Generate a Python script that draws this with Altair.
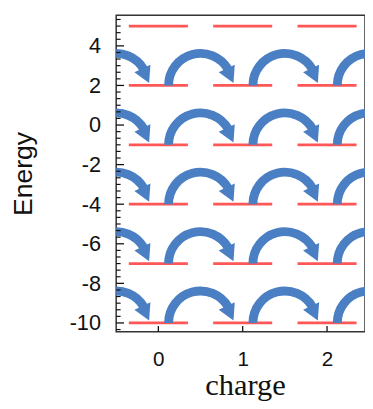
import altair as alt
import pandas as pd

# data
charges = [0, 1, 2]
seg_lo = [-0.35, 0.65, 1.65]
seg_hi = [0.35, 1.35, 2.35]
levels = [5, 2, -1, -4, -7, -10]
arc_levels = [2, -1, -4, -7, -10]
arc_centers = [-0.5, 0.5, 1.5, 2.5]
y_ticks = [-10, -8, -6, -4, -2, 0, 2, 4]
x_ticks = [0, 1, 2]
y_minor = [k / 3 for k in range(-31, 17) if k % 6 != 0]

BLUE = "#4a7fc3"
RED = "#ff5656"

lines_df = pd.DataFrame(
    [{"lo": lo, "hi": hi, "E": e} for lo, hi in zip(seg_lo, seg_hi) for e in levels]
)
arcs_df = pd.DataFrame([{"c": c, "E": e} for c in arc_centers for e in arc_levels])
ymaj_df = pd.DataFrame({"t": y_ticks})
ymin_df = pd.DataFrame({"t": y_minor})
xt_df = pd.DataFrame({"t": x_ticks})

xs = alt.Scale(domain=[-0.5, 2.45], nice=False, zero=False)
ys = alt.Scale(domain=[-10.45, 5.55], nice=False, zero=False)

xax = alt.Axis(
    values=x_ticks, ticks=False, domain=False, grid=False,
    labelExpr="datum.value + ''",
    labelFont="Liberation Sans", labelFontSize=21, labelColor="#111",
    labelPadding=17, title="charge", titleFont="Liberation Serif",
    titleFontSize=31, titleFontWeight="normal", titleColor="#111",
    titleBaseline="alphabetic", titleY=64, titleX=131,
)
yax = alt.Axis(
    values=y_ticks, ticks=False, domain=False, grid=False,
    labelExpr="datum.value + ''",
    labelFont="Liberation Sans", labelFontSize=22, labelColor="#111",
    labelPadding=16, title="Energy", titleFont="Liberation Sans",
    titleFontSize=27, titleFontWeight="normal", titleColor="#111",
    titleBaseline="alphabetic", titleX=-86, titleY=161,
)

red = alt.Chart(lines_df).mark_rule(color=RED, strokeWidth=2.8).encode(
    x=alt.X("lo:Q", scale=xs, axis=xax),
    x2="hi:Q",
    y=alt.Y("E:Q", scale=ys, axis=yax),
)

arcs = alt.Chart(arcs_df).mark_arc(
    radius=37, radius2=28, color=BLUE, clip=True
).encode(
    x=alt.X("c:Q", scale=xs),
    y=alt.Y("E:Q", scale=ys),
    theta=alt.value(4.712),
    theta2=alt.value(7.33),
)

heads = alt.Chart(arcs_df).mark_point(
    shape="M -1 -0.8 L 1 -0.8 L 0 1 Z", filled=True, color=BLUE,
    opacity=1, size=324, angle=335, xOffset=29.7, yOffset=-10.6,
    strokeWidth=0, clip=True,
).encode(
    x=alt.X("c:Q", scale=xs),
    y=alt.Y("E:Q", scale=ys),
)

ymaj = alt.Chart(ymaj_df).mark_rule(color="#111", strokeWidth=1.3).encode(
    y=alt.Y("t:Q", scale=ys), x=alt.value(0), x2=alt.value(8)
)
ymin = alt.Chart(ymin_df).mark_rule(color="#111", strokeWidth=1.2).encode(
    y=alt.Y("t:Q", scale=ys), x=alt.value(0), x2=alt.value(4.5)
)
xt = alt.Chart(xt_df).mark_rule(color="#111", strokeWidth=1.3).encode(
    x=alt.X("t:Q", scale=xs), y=alt.value(322), y2=alt.value(316)
)

chart = (
    alt.layer(red, arcs, heads, ymaj, ymin, xt)
    .properties(
        width=253, height=322,
        autosize=alt.AutoSizeParams(type="none"),
        padding={"left": 110, "top": 4, "right": 0, "bottom": 67},
    )
    .configure_view(stroke="#333", strokeWidth=1.5)
)

chart.save("out.html", embed_options={"renderer": "svg", "actions": False})
